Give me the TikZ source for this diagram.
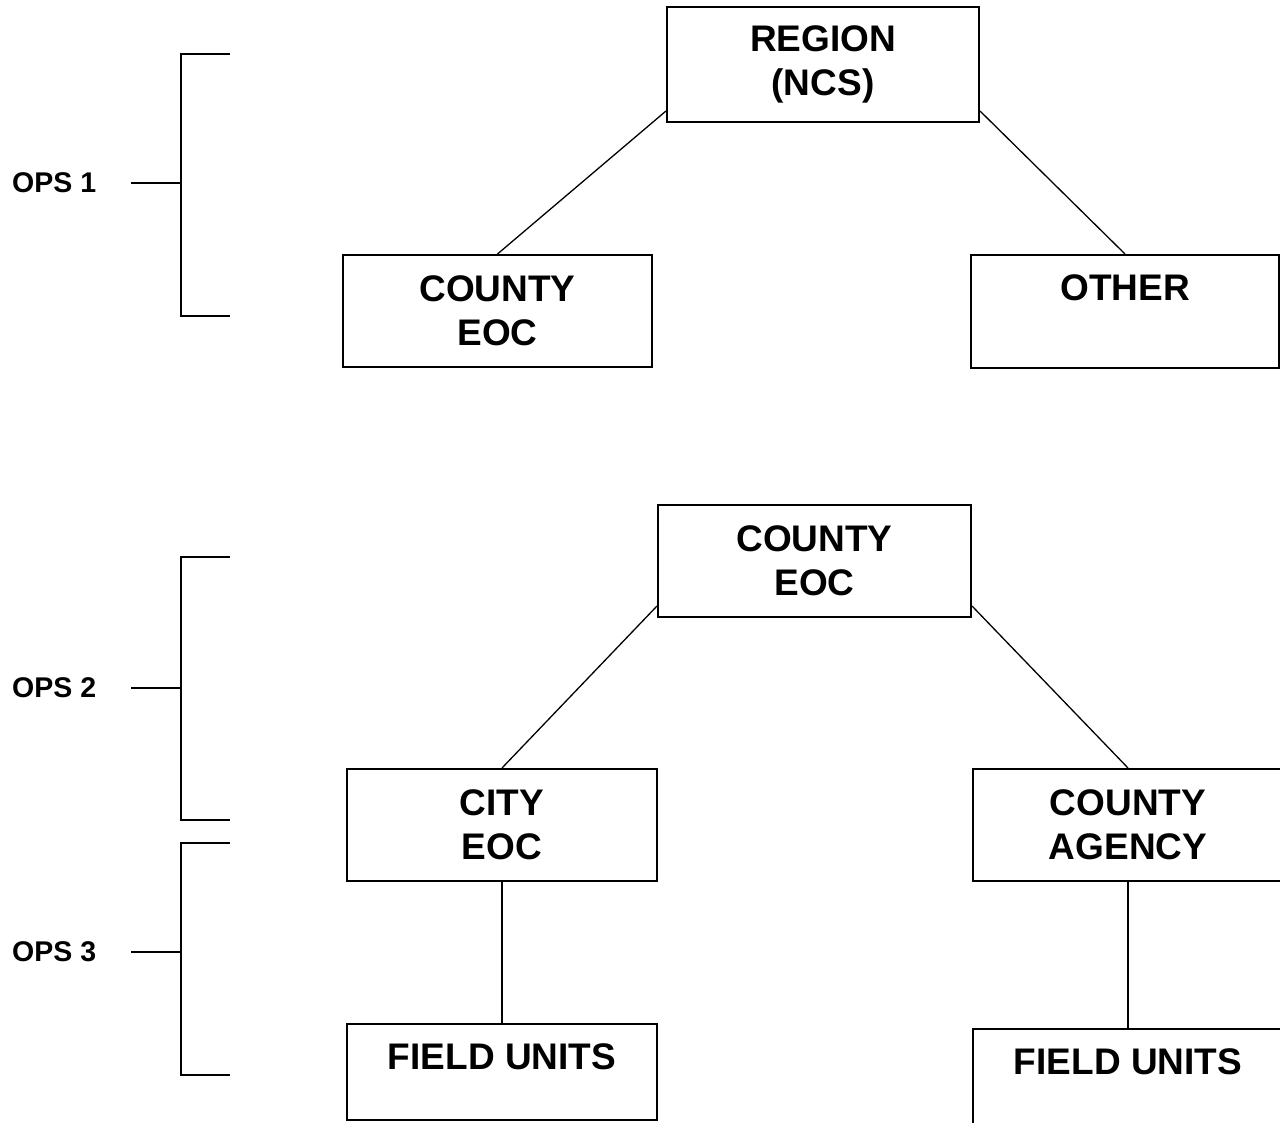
\documentclass[tikz,border=0pt]{standalone}
\usepackage{fontspec}
\setmainfont{Liberation Sans}
\begin{document}
\begin{tikzpicture}[x=1pt,y=-1pt,
  box/.style={draw, line width=2pt, inner sep=0pt, font=\fontsize{37}{44}\selectfont\bfseries, align=center},
  conn/.style={line width=1.3pt},
  brk/.style={line width=2pt},
  ops/.style={font=\fontsize{28.5}{34}\selectfont\bfseries, anchor=west, inner sep=0pt}]
\useasboundingbox (0,0) rectangle (1280,1123);
\clip (0,0) rectangle (1280,1123);
\fill[white] (0,0) rectangle (1280,1123);

% Boxes
\node[box, minimum width=312pt, minimum height=115pt] (region) at (823,64.5) {REGION\\(NCS)};
\node[box, minimum width=309pt, minimum height=112pt] (ceoc1) at (497.5,311) {COUNTY\\EOC};
\node[box, minimum width=308pt, minimum height=113pt, text depth=47pt] (other) at (1125,311.5) {OTHER};
\node[box, minimum width=313pt, minimum height=112pt] (ceoc2) at (814.5,561) {COUNTY\\EOC};
\node[box, minimum width=310pt, minimum height=112pt] (city) at (502,825) {CITY\\EOC};
\node[box, minimum width=310pt, minimum height=112pt] (agency) at (1128,825) {COUNTY\\AGENCY};
\node[box, minimum width=310pt, minimum height=96pt, text depth=30pt] (fu1) at (502,1072) {FIELD UNITS};
\node[box, minimum width=310pt, minimum height=96pt, text depth=30pt] (fu2) at (1128,1077) {FIELD UNITS};

% Connectors
\draw[conn] ([yshift=12pt]region.south west) -- (ceoc1.north);
\draw[conn] ([yshift=12pt]region.south east) -- (other.north);
\draw[conn] ([yshift=12pt]ceoc2.south west) -- (city.north);
\draw[conn] ([yshift=12pt]ceoc2.south east) -- (agency.north);
\draw[conn] (city.south) -- (fu1.north);
\draw[conn] (agency.south) -- (fu2.north);

% OPS labels and brackets
\node[ops] (ops1) at (12,183) {OPS 1};
\node[ops] (ops2) at (12,688) {OPS 2};
\node[ops] (ops3) at (12,952) {OPS 3};

\coordinate (t1) at (181,183);
\coordinate (t2) at (181,688);
\coordinate (t3) at (181,952);
\draw[conn] (131,183) -- (t1);
\draw[conn] (131,688) -- (t2);
\draw[conn] (131,952) -- (t3);

\draw[brk] (230,54) -- (181,54) -- (181,316) -- (230,316);
\draw[brk] (230,557) -- (181,557) -- (181,820) -- (230,820);
\draw[brk] (230,843) -- (181,843) -- (181,1075) -- (230,1075);
\end{tikzpicture}
\end{document}
